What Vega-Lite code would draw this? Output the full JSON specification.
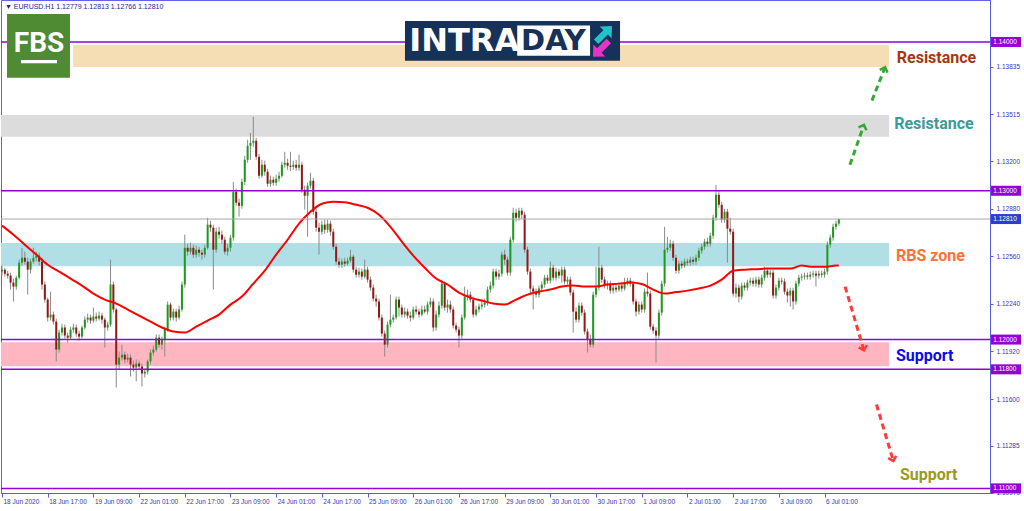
{
"$schema": "https://vega.github.io/schema/vega-lite/v6.json",
"width": 989,
"height": 493,
"autosize": "none",
"padding": {"left": 1, "top": 0, "right": 34, "bottom": 18},
"background": "#ffffff",
"config": {"view": {"stroke": "#6262e8", "strokeWidth": 1}, "scale": {"continuousPadding": 0}},
"datasets": {
"candles": [
{"i":0,"o":1.12457,"h":1.12497,"l":1.1243,"c":1.1247},
{"i":1,"o":1.1247,"h":1.12483,"l":1.12423,"c":1.12443},
{"i":2,"o":1.12443,"h":1.12463,"l":1.1241,"c":1.1243},
{"i":3,"o":1.1243,"h":1.1245,"l":1.12336,"c":1.12383},
{"i":4,"o":1.12383,"h":1.1241,"l":1.12256,"c":1.12356},
{"i":5,"o":1.12356,"h":1.1243,"l":1.12336,"c":1.12416},
{"i":6,"o":1.12416,"h":1.12537,"l":1.12403,"c":1.12517},
{"i":7,"o":1.12517,"h":1.12617,"l":1.12497,"c":1.1255},
{"i":8,"o":1.1255,"h":1.12591,"l":1.12503,"c":1.12524},
{"i":9,"o":1.12524,"h":1.1255,"l":1.12302,"c":1.1247},
{"i":10,"o":1.1247,"h":1.12544,"l":1.12443,"c":1.12524},
{"i":11,"o":1.12524,"h":1.12617,"l":1.1251,"c":1.1255},
{"i":12,"o":1.1255,"h":1.12591,"l":1.12524,"c":1.12564},
{"i":13,"o":1.12564,"h":1.12584,"l":1.12497,"c":1.12524},
{"i":14,"o":1.12524,"h":1.1255,"l":1.12336,"c":1.1237},
{"i":15,"o":1.1237,"h":1.1239,"l":1.12249,"c":1.12269},
{"i":16,"o":1.12269,"h":1.12282,"l":1.12121,"c":1.12148},
{"i":17,"o":1.12148,"h":1.12322,"l":1.12128,"c":1.12168},
{"i":18,"o":1.12168,"h":1.12188,"l":1.12101,"c":1.12121},
{"i":19,"o":1.12121,"h":1.12141,"l":1.11853,"c":1.11933},
{"i":20,"o":1.11933,"h":1.12067,"l":1.11913,"c":1.12047},
{"i":21,"o":1.12047,"h":1.12107,"l":1.12027,"c":1.12081},
{"i":22,"o":1.12081,"h":1.12101,"l":1.12007,"c":1.12027},
{"i":23,"o":1.12027,"h":1.12047,"l":1.1198,"c":1.12013},
{"i":24,"o":1.12013,"h":1.12087,"l":1.12,"c":1.12067},
{"i":25,"o":1.12067,"h":1.12107,"l":1.12047,"c":1.12081},
{"i":26,"o":1.12081,"h":1.12101,"l":1.1202,"c":1.1204},
{"i":27,"o":1.1204,"h":1.1206,"l":1.11993,"c":1.1202},
{"i":28,"o":1.1202,"h":1.12094,"l":1.12007,"c":1.12081},
{"i":29,"o":1.12081,"h":1.12155,"l":1.12067,"c":1.12134},
{"i":30,"o":1.12134,"h":1.12175,"l":1.12114,"c":1.12148},
{"i":31,"o":1.12148,"h":1.12168,"l":1.12107,"c":1.12128},
{"i":32,"o":1.12128,"h":1.12215,"l":1.12114,"c":1.12155},
{"i":33,"o":1.12155,"h":1.12181,"l":1.12121,"c":1.12141},
{"i":34,"o":1.12141,"h":1.12188,"l":1.12128,"c":1.12161},
{"i":35,"o":1.12161,"h":1.12181,"l":1.12107,"c":1.12134},
{"i":36,"o":1.12134,"h":1.12148,"l":1.11946,"c":1.12081},
{"i":37,"o":1.12081,"h":1.12121,"l":1.1206,"c":1.12101},
{"i":38,"o":1.12101,"h":1.12537,"l":1.12087,"c":1.1237},
{"i":39,"o":1.1237,"h":1.1239,"l":1.12181,"c":1.12202},
{"i":40,"o":1.12202,"h":1.12215,"l":1.11678,"c":1.11832},
{"i":41,"o":1.11832,"h":1.11919,"l":1.11799,"c":1.11879},
{"i":42,"o":1.11879,"h":1.11966,"l":1.11859,"c":1.11899},
{"i":43,"o":1.11899,"h":1.11919,"l":1.11839,"c":1.11866},
{"i":44,"o":1.11866,"h":1.11906,"l":1.11846,"c":1.11879},
{"i":45,"o":1.11879,"h":1.11899,"l":1.11752,"c":1.11832},
{"i":46,"o":1.11832,"h":1.11859,"l":1.11785,"c":1.11812},
{"i":47,"o":1.11812,"h":1.11866,"l":1.11719,"c":1.11839},
{"i":48,"o":1.11839,"h":1.11859,"l":1.11799,"c":1.11819},
{"i":49,"o":1.11819,"h":1.11839,"l":1.11685,"c":1.11772},
{"i":50,"o":1.11772,"h":1.11806,"l":1.11745,"c":1.11785},
{"i":51,"o":1.11785,"h":1.11866,"l":1.11765,"c":1.11853},
{"i":52,"o":1.11853,"h":1.11933,"l":1.11832,"c":1.11913},
{"i":53,"o":1.11913,"h":1.1196,"l":1.11893,"c":1.11933},
{"i":54,"o":1.11933,"h":1.12034,"l":1.11919,"c":1.12013},
{"i":55,"o":1.12013,"h":1.12034,"l":1.11946,"c":1.11966},
{"i":56,"o":1.11966,"h":1.1202,"l":1.11933,"c":1.12},
{"i":57,"o":1.12,"h":1.12087,"l":1.11886,"c":1.12067},
{"i":58,"o":1.12067,"h":1.12256,"l":1.12054,"c":1.12235},
{"i":59,"o":1.12235,"h":1.12249,"l":1.12128,"c":1.12148},
{"i":60,"o":1.12148,"h":1.12208,"l":1.12128,"c":1.12188},
{"i":61,"o":1.12188,"h":1.12208,"l":1.12121,"c":1.12148},
{"i":62,"o":1.12148,"h":1.12228,"l":1.12134,"c":1.12202},
{"i":63,"o":1.12202,"h":1.1239,"l":1.12188,"c":1.1237},
{"i":64,"o":1.1237,"h":1.12705,"l":1.12349,"c":1.12617},
{"i":65,"o":1.12617,"h":1.12644,"l":1.12564,"c":1.12591},
{"i":66,"o":1.12591,"h":1.12651,"l":1.12571,"c":1.12617},
{"i":67,"o":1.12617,"h":1.12638,"l":1.1255,"c":1.12571},
{"i":68,"o":1.12571,"h":1.12631,"l":1.1255,"c":1.12604},
{"i":69,"o":1.12604,"h":1.12624,"l":1.12557,"c":1.12584},
{"i":70,"o":1.12584,"h":1.12604,"l":1.12537,"c":1.12571},
{"i":71,"o":1.12571,"h":1.12638,"l":1.1255,"c":1.12617},
{"i":72,"o":1.12617,"h":1.12819,"l":1.12604,"c":1.12772},
{"i":73,"o":1.12772,"h":1.12799,"l":1.12725,"c":1.12752},
{"i":74,"o":1.12752,"h":1.12772,"l":1.12336,"c":1.12604},
{"i":75,"o":1.12604,"h":1.12752,"l":1.12584,"c":1.12725},
{"i":76,"o":1.12725,"h":1.12758,"l":1.12678,"c":1.12705},
{"i":77,"o":1.12705,"h":1.12732,"l":1.12644,"c":1.12671},
{"i":78,"o":1.12671,"h":1.12691,"l":1.12571,"c":1.12591},
{"i":79,"o":1.12591,"h":1.12644,"l":1.12564,"c":1.12617},
{"i":80,"o":1.12617,"h":1.12705,"l":1.12591,"c":1.12685},
{"i":81,"o":1.12685,"h":1.1306,"l":1.12664,"c":1.12993},
{"i":82,"o":1.12993,"h":1.13014,"l":1.12899,"c":1.1292},
{"i":83,"o":1.1292,"h":1.12947,"l":1.12826,"c":1.12899},
{"i":84,"o":1.12899,"h":1.13081,"l":1.12879,"c":1.1306},
{"i":85,"o":1.1306,"h":1.13235,"l":1.1304,"c":1.13208},
{"i":86,"o":1.13208,"h":1.13343,"l":1.13188,"c":1.13302},
{"i":87,"o":1.13302,"h":1.13389,"l":1.13208,"c":1.13322},
{"i":88,"o":1.13322,"h":1.13497,"l":1.13296,"c":1.13336},
{"i":89,"o":1.13336,"h":1.13356,"l":1.13208,"c":1.13228},
{"i":90,"o":1.13228,"h":1.13248,"l":1.13081,"c":1.13101},
{"i":91,"o":1.13101,"h":1.13208,"l":1.13087,"c":1.13175},
{"i":92,"o":1.13175,"h":1.13202,"l":1.13101,"c":1.13128},
{"i":93,"o":1.13128,"h":1.13148,"l":1.13027,"c":1.13047},
{"i":94,"o":1.13047,"h":1.13101,"l":1.13027,"c":1.13074},
{"i":95,"o":1.13074,"h":1.13094,"l":1.13034,"c":1.13054},
{"i":96,"o":1.13054,"h":1.13108,"l":1.13034,"c":1.13081},
{"i":97,"o":1.13081,"h":1.13128,"l":1.1306,"c":1.13101},
{"i":98,"o":1.13101,"h":1.13195,"l":1.13087,"c":1.13175},
{"i":99,"o":1.13175,"h":1.13262,"l":1.13155,"c":1.13188},
{"i":100,"o":1.13188,"h":1.13215,"l":1.13141,"c":1.13168},
{"i":101,"o":1.13168,"h":1.13262,"l":1.13134,"c":1.13161},
{"i":102,"o":1.13161,"h":1.13202,"l":1.13141,"c":1.13175},
{"i":103,"o":1.13175,"h":1.13208,"l":1.13134,"c":1.13155},
{"i":104,"o":1.13155,"h":1.13242,"l":1.13134,"c":1.13175},
{"i":105,"o":1.13175,"h":1.13195,"l":1.12987,"c":1.13007},
{"i":106,"o":1.13007,"h":1.13034,"l":1.12873,"c":1.12967},
{"i":107,"o":1.12967,"h":1.13054,"l":1.12691,"c":1.13034},
{"i":108,"o":1.13034,"h":1.13121,"l":1.13014,"c":1.13067},
{"i":109,"o":1.13067,"h":1.13087,"l":1.12839,"c":1.12859},
{"i":110,"o":1.12859,"h":1.12879,"l":1.12725,"c":1.12752},
{"i":111,"o":1.12752,"h":1.12785,"l":1.12571,"c":1.12725},
{"i":112,"o":1.12725,"h":1.12799,"l":1.12705,"c":1.12772},
{"i":113,"o":1.12772,"h":1.12806,"l":1.12711,"c":1.12738},
{"i":114,"o":1.12738,"h":1.12806,"l":1.12718,"c":1.12779},
{"i":115,"o":1.12779,"h":1.12799,"l":1.12698,"c":1.12725},
{"i":116,"o":1.12725,"h":1.12745,"l":1.12604,"c":1.12624},
{"i":117,"o":1.12624,"h":1.12644,"l":1.12503,"c":1.12524},
{"i":118,"o":1.12524,"h":1.1255,"l":1.12483,"c":1.12503},
{"i":119,"o":1.12503,"h":1.12544,"l":1.12483,"c":1.12524},
{"i":120,"o":1.12524,"h":1.1255,"l":1.1249,"c":1.1251},
{"i":121,"o":1.1251,"h":1.1255,"l":1.12497,"c":1.1253},
{"i":122,"o":1.1253,"h":1.12604,"l":1.12517,"c":1.12557},
{"i":123,"o":1.12557,"h":1.12571,"l":1.1245,"c":1.1247},
{"i":124,"o":1.1247,"h":1.1249,"l":1.12416,"c":1.12436},
{"i":125,"o":1.12436,"h":1.12483,"l":1.12416,"c":1.12457},
{"i":126,"o":1.12457,"h":1.12477,"l":1.12403,"c":1.12423},
{"i":127,"o":1.12423,"h":1.12537,"l":1.1241,"c":1.1247},
{"i":128,"o":1.1247,"h":1.1249,"l":1.12383,"c":1.12403},
{"i":129,"o":1.12403,"h":1.12423,"l":1.12329,"c":1.12349},
{"i":130,"o":1.12349,"h":1.1237,"l":1.12256,"c":1.12275},
{"i":131,"o":1.12275,"h":1.12302,"l":1.12222,"c":1.12256},
{"i":132,"o":1.12256,"h":1.12275,"l":1.12128,"c":1.12148},
{"i":133,"o":1.12148,"h":1.12168,"l":1.1202,"c":1.1204},
{"i":134,"o":1.1204,"h":1.1206,"l":1.11886,"c":1.11966},
{"i":135,"o":1.11966,"h":1.12121,"l":1.11946,"c":1.12101},
{"i":136,"o":1.12101,"h":1.12302,"l":1.12081,"c":1.12134},
{"i":137,"o":1.12134,"h":1.12168,"l":1.12114,"c":1.12148},
{"i":138,"o":1.12148,"h":1.12289,"l":1.12134,"c":1.12269},
{"i":139,"o":1.12269,"h":1.12289,"l":1.12155,"c":1.12215},
{"i":140,"o":1.12215,"h":1.12235,"l":1.12148,"c":1.12168},
{"i":141,"o":1.12168,"h":1.12215,"l":1.12148,"c":1.12188},
{"i":142,"o":1.12188,"h":1.12208,"l":1.12141,"c":1.12161},
{"i":143,"o":1.12161,"h":1.12188,"l":1.12121,"c":1.12148},
{"i":144,"o":1.12148,"h":1.12222,"l":1.12134,"c":1.12202},
{"i":145,"o":1.12202,"h":1.12228,"l":1.12168,"c":1.12188},
{"i":146,"o":1.12188,"h":1.12208,"l":1.12148,"c":1.12168},
{"i":147,"o":1.12168,"h":1.12228,"l":1.12155,"c":1.12202},
{"i":148,"o":1.12202,"h":1.12228,"l":1.12175,"c":1.12188},
{"i":149,"o":1.12188,"h":1.12256,"l":1.12168,"c":1.12235},
{"i":150,"o":1.12235,"h":1.12282,"l":1.12215,"c":1.12256},
{"i":151,"o":1.12256,"h":1.12275,"l":1.12054,"c":1.12081},
{"i":152,"o":1.12081,"h":1.12195,"l":1.1206,"c":1.12168},
{"i":153,"o":1.12168,"h":1.12256,"l":1.12148,"c":1.12228},
{"i":154,"o":1.12228,"h":1.12403,"l":1.12208,"c":1.12376},
{"i":155,"o":1.12376,"h":1.1239,"l":1.12195,"c":1.12215},
{"i":156,"o":1.12215,"h":1.12269,"l":1.12181,"c":1.12235},
{"i":157,"o":1.12235,"h":1.12262,"l":1.12181,"c":1.12202},
{"i":158,"o":1.12202,"h":1.12222,"l":1.12074,"c":1.12094},
{"i":159,"o":1.12094,"h":1.12114,"l":1.12047,"c":1.12067},
{"i":160,"o":1.12067,"h":1.12087,"l":1.11946,"c":1.12027},
{"i":161,"o":1.12027,"h":1.12168,"l":1.12007,"c":1.12148},
{"i":162,"o":1.12148,"h":1.12356,"l":1.12134,"c":1.12289},
{"i":163,"o":1.12289,"h":1.12336,"l":1.12262,"c":1.12302},
{"i":164,"o":1.12302,"h":1.12322,"l":1.12249,"c":1.12269},
{"i":165,"o":1.12269,"h":1.12289,"l":1.12148,"c":1.12168},
{"i":166,"o":1.12168,"h":1.12228,"l":1.12155,"c":1.12202},
{"i":167,"o":1.12202,"h":1.12242,"l":1.12181,"c":1.12222},
{"i":168,"o":1.12222,"h":1.12262,"l":1.12202,"c":1.12235},
{"i":169,"o":1.12235,"h":1.12275,"l":1.12215,"c":1.12249},
{"i":170,"o":1.12249,"h":1.12356,"l":1.12228,"c":1.12336},
{"i":171,"o":1.12336,"h":1.1239,"l":1.12316,"c":1.12363},
{"i":172,"o":1.12363,"h":1.12477,"l":1.12343,"c":1.12457},
{"i":173,"o":1.12457,"h":1.12477,"l":1.12403,"c":1.12423},
{"i":174,"o":1.12423,"h":1.1247,"l":1.12403,"c":1.12443},
{"i":175,"o":1.12443,"h":1.12591,"l":1.12423,"c":1.12571},
{"i":176,"o":1.12571,"h":1.12604,"l":1.12503,"c":1.12537},
{"i":177,"o":1.12537,"h":1.12557,"l":1.1243,"c":1.1245},
{"i":178,"o":1.1245,"h":1.12691,"l":1.1243,"c":1.12671},
{"i":179,"o":1.12671,"h":1.12886,"l":1.12651,"c":1.12852},
{"i":180,"o":1.12852,"h":1.12879,"l":1.12792,"c":1.12819},
{"i":181,"o":1.12819,"h":1.12886,"l":1.12799,"c":1.12866},
{"i":182,"o":1.12866,"h":1.12886,"l":1.12812,"c":1.12839},
{"i":183,"o":1.12839,"h":1.12859,"l":1.12584,"c":1.12604},
{"i":184,"o":1.12604,"h":1.12624,"l":1.12436,"c":1.12457},
{"i":185,"o":1.12457,"h":1.12477,"l":1.12302,"c":1.12343},
{"i":186,"o":1.12343,"h":1.12363,"l":1.12202,"c":1.12322},
{"i":187,"o":1.12322,"h":1.12343,"l":1.12282,"c":1.12302},
{"i":188,"o":1.12302,"h":1.12363,"l":1.12282,"c":1.12343},
{"i":189,"o":1.12343,"h":1.1239,"l":1.12322,"c":1.1237},
{"i":190,"o":1.1237,"h":1.12436,"l":1.12349,"c":1.12416},
{"i":191,"o":1.12416,"h":1.12436,"l":1.12376,"c":1.12396},
{"i":192,"o":1.12396,"h":1.12524,"l":1.12376,"c":1.12483},
{"i":193,"o":1.12483,"h":1.12503,"l":1.12396,"c":1.12416},
{"i":194,"o":1.12416,"h":1.12483,"l":1.12396,"c":1.12457},
{"i":195,"o":1.12457,"h":1.12477,"l":1.1241,"c":1.1243},
{"i":196,"o":1.1243,"h":1.1249,"l":1.12383,"c":1.1247},
{"i":197,"o":1.1247,"h":1.1249,"l":1.1237,"c":1.1239},
{"i":198,"o":1.1239,"h":1.12423,"l":1.1237,"c":1.12403},
{"i":199,"o":1.12403,"h":1.12423,"l":1.12296,"c":1.12316},
{"i":200,"o":1.12316,"h":1.12336,"l":1.12047,"c":1.12188},
{"i":201,"o":1.12188,"h":1.12215,"l":1.12114,"c":1.12134},
{"i":202,"o":1.12134,"h":1.12249,"l":1.12114,"c":1.12228},
{"i":203,"o":1.12228,"h":1.12249,"l":1.12161,"c":1.12181},
{"i":204,"o":1.12181,"h":1.12202,"l":1.12034,"c":1.12054},
{"i":205,"o":1.12054,"h":1.12074,"l":1.11913,"c":1.12},
{"i":206,"o":1.12,"h":1.12034,"l":1.11946,"c":1.11966},
{"i":207,"o":1.11966,"h":1.12322,"l":1.11946,"c":1.12302},
{"i":208,"o":1.12302,"h":1.1249,"l":1.12282,"c":1.12349},
{"i":209,"o":1.12349,"h":1.12624,"l":1.12329,"c":1.12483},
{"i":210,"o":1.12483,"h":1.12503,"l":1.12383,"c":1.12403},
{"i":211,"o":1.12403,"h":1.12423,"l":1.12343,"c":1.12363},
{"i":212,"o":1.12363,"h":1.12396,"l":1.12336,"c":1.12376},
{"i":213,"o":1.12376,"h":1.12396,"l":1.12309,"c":1.12329},
{"i":214,"o":1.12329,"h":1.1237,"l":1.12309,"c":1.12349},
{"i":215,"o":1.12349,"h":1.1237,"l":1.12316,"c":1.12336},
{"i":216,"o":1.12336,"h":1.12383,"l":1.12322,"c":1.12363},
{"i":217,"o":1.12363,"h":1.12383,"l":1.12322,"c":1.12343},
{"i":218,"o":1.12343,"h":1.12416,"l":1.12329,"c":1.12383},
{"i":219,"o":1.12383,"h":1.12416,"l":1.12363,"c":1.12396},
{"i":220,"o":1.12396,"h":1.12416,"l":1.12356,"c":1.12376},
{"i":221,"o":1.12376,"h":1.12396,"l":1.12235,"c":1.12256},
{"i":222,"o":1.12256,"h":1.12275,"l":1.12155,"c":1.12188},
{"i":223,"o":1.12188,"h":1.12256,"l":1.12168,"c":1.12235},
{"i":224,"o":1.12235,"h":1.12256,"l":1.12181,"c":1.12202},
{"i":225,"o":1.12202,"h":1.12343,"l":1.12181,"c":1.12322},
{"i":226,"o":1.12322,"h":1.1245,"l":1.12289,"c":1.12309},
{"i":227,"o":1.12309,"h":1.12329,"l":1.12067,"c":1.12087},
{"i":228,"o":1.12087,"h":1.12107,"l":1.1204,"c":1.1206},
{"i":229,"o":1.1206,"h":1.12081,"l":1.11846,"c":1.12027},
{"i":230,"o":1.12027,"h":1.12202,"l":1.12007,"c":1.12181},
{"i":231,"o":1.12181,"h":1.12396,"l":1.12161,"c":1.12376},
{"i":232,"o":1.12376,"h":1.12758,"l":1.12356,"c":1.12604},
{"i":233,"o":1.12604,"h":1.12691,"l":1.12584,"c":1.12617},
{"i":234,"o":1.12617,"h":1.12671,"l":1.12597,"c":1.12644},
{"i":235,"o":1.12644,"h":1.12664,"l":1.1253,"c":1.1255},
{"i":236,"o":1.1255,"h":1.12571,"l":1.12443,"c":1.12463},
{"i":237,"o":1.12463,"h":1.1253,"l":1.12443,"c":1.1251},
{"i":238,"o":1.1251,"h":1.1253,"l":1.12477,"c":1.12497},
{"i":239,"o":1.12497,"h":1.12544,"l":1.12483,"c":1.12524},
{"i":240,"o":1.12524,"h":1.12544,"l":1.12497,"c":1.12517},
{"i":241,"o":1.12517,"h":1.12557,"l":1.12497,"c":1.12537},
{"i":242,"o":1.12537,"h":1.12557,"l":1.12503,"c":1.12524},
{"i":243,"o":1.12524,"h":1.12571,"l":1.12503,"c":1.1255},
{"i":244,"o":1.1255,"h":1.12617,"l":1.1253,"c":1.12597},
{"i":245,"o":1.12597,"h":1.12644,"l":1.12577,"c":1.12624},
{"i":246,"o":1.12624,"h":1.12678,"l":1.12604,"c":1.12658},
{"i":247,"o":1.12658,"h":1.12685,"l":1.12624,"c":1.12644},
{"i":248,"o":1.12644,"h":1.12718,"l":1.12624,"c":1.12698},
{"i":249,"o":1.12698,"h":1.12839,"l":1.12678,"c":1.12819},
{"i":250,"o":1.12819,"h":1.1304,"l":1.12799,"c":1.12973},
{"i":251,"o":1.12973,"h":1.13007,"l":1.12886,"c":1.12906},
{"i":252,"o":1.12906,"h":1.12926,"l":1.12785,"c":1.12806},
{"i":253,"o":1.12806,"h":1.12879,"l":1.12785,"c":1.12859},
{"i":254,"o":1.12859,"h":1.12879,"l":1.12517,"c":1.12745},
{"i":255,"o":1.12745,"h":1.12819,"l":1.12705,"c":1.12725},
{"i":256,"o":1.12725,"h":1.12745,"l":1.12289,"c":1.12309},
{"i":257,"o":1.12309,"h":1.12376,"l":1.12282,"c":1.12349},
{"i":258,"o":1.12349,"h":1.1237,"l":1.12249,"c":1.12289},
{"i":259,"o":1.12289,"h":1.12383,"l":1.12269,"c":1.12363},
{"i":260,"o":1.12363,"h":1.12383,"l":1.12329,"c":1.12349},
{"i":261,"o":1.12349,"h":1.12403,"l":1.12329,"c":1.12383},
{"i":262,"o":1.12383,"h":1.12416,"l":1.12363,"c":1.12396},
{"i":263,"o":1.12396,"h":1.12416,"l":1.12356,"c":1.12376},
{"i":264,"o":1.12376,"h":1.12423,"l":1.12356,"c":1.12403},
{"i":265,"o":1.12403,"h":1.12423,"l":1.12349,"c":1.1237},
{"i":266,"o":1.1237,"h":1.12436,"l":1.12349,"c":1.12416},
{"i":267,"o":1.12416,"h":1.1249,"l":1.12396,"c":1.12463},
{"i":268,"o":1.12463,"h":1.12483,"l":1.12416,"c":1.12436},
{"i":269,"o":1.12436,"h":1.1247,"l":1.12416,"c":1.1245},
{"i":270,"o":1.1245,"h":1.1247,"l":1.12275,"c":1.12296},
{"i":271,"o":1.12296,"h":1.1237,"l":1.12275,"c":1.12349},
{"i":272,"o":1.12349,"h":1.12416,"l":1.12329,"c":1.12396},
{"i":273,"o":1.12396,"h":1.12416,"l":1.1237,"c":1.1239},
{"i":274,"o":1.1239,"h":1.1241,"l":1.12302,"c":1.12322},
{"i":275,"o":1.12322,"h":1.12343,"l":1.12249,"c":1.12296},
{"i":276,"o":1.12296,"h":1.12349,"l":1.12222,"c":1.12329},
{"i":277,"o":1.12329,"h":1.12349,"l":1.12202,"c":1.12256},
{"i":278,"o":1.12256,"h":1.12396,"l":1.12235,"c":1.12376},
{"i":279,"o":1.12376,"h":1.12436,"l":1.12356,"c":1.12416},
{"i":280,"o":1.12416,"h":1.12443,"l":1.12396,"c":1.12423},
{"i":281,"o":1.12423,"h":1.1245,"l":1.12403,"c":1.1243},
{"i":282,"o":1.1243,"h":1.1245,"l":1.12403,"c":1.12423},
{"i":283,"o":1.12423,"h":1.12457,"l":1.12403,"c":1.12436},
{"i":284,"o":1.12436,"h":1.12463,"l":1.12416,"c":1.12443},
{"i":285,"o":1.12443,"h":1.12463,"l":1.12356,"c":1.1243},
{"i":286,"o":1.1243,"h":1.12463,"l":1.1241,"c":1.12443},
{"i":287,"o":1.12443,"h":1.12463,"l":1.12416,"c":1.12436},
{"i":288,"o":1.12436,"h":1.12477,"l":1.12416,"c":1.12457},
{"i":289,"o":1.12457,"h":1.12658,"l":1.12436,"c":1.12638},
{"i":290,"o":1.12638,"h":1.12705,"l":1.12617,"c":1.12685},
{"i":291,"o":1.12685,"h":1.12779,"l":1.12664,"c":1.12758},
{"i":292,"o":1.12758,"h":1.12799,"l":1.12738,"c":1.12779},
{"i":293,"o":1.12779,"h":1.12813,"l":1.12766,"c":1.1281}
],
"ma": [
{"i":0,"v":1.12766},{"i":4,"v":1.12705},{"i":8,"v":1.12638},{"i":12,"v":1.12571},{"i":16,"v":1.12503},{"i":20,"v":1.12457},{"i":24,"v":1.1241},{"i":28,"v":1.12363},{"i":32,"v":1.12309},{"i":36,"v":1.12269},{"i":40,"v":1.12242},{"i":44,"v":1.12202},{"i":48,"v":1.12161},{"i":52,"v":1.12121},{"i":56,"v":1.12081},{"i":60,"v":1.12054},{"i":64,"v":1.12047},{"i":68,"v":1.12087},{"i":72,"v":1.12128},{"i":76,"v":1.12168},{"i":80,"v":1.12235},{"i":84,"v":1.12289},{"i":88,"v":1.12376},{"i":92,"v":1.12463},{"i":96,"v":1.12571},{"i":100,"v":1.12671},{"i":104,"v":1.12779},{"i":108,"v":1.12859},{"i":112,"v":1.12913},{"i":116,"v":1.12926},{"i":120,"v":1.12923},{"i":124,"v":1.12906},{"i":128,"v":1.12886},{"i":132,"v":1.12839},{"i":136,"v":1.12758},{"i":140,"v":1.12658},{"i":144,"v":1.12564},{"i":148,"v":1.12483},{"i":152,"v":1.1241},{"i":156,"v":1.1237},{"i":160,"v":1.12316},{"i":164,"v":1.12282},{"i":168,"v":1.12262},{"i":172,"v":1.12242},{"i":176,"v":1.12235},{"i":180,"v":1.12269},{"i":184,"v":1.12302},{"i":188,"v":1.12322},{"i":192,"v":1.12336},{"i":196,"v":1.12356},{"i":200,"v":1.12363},{"i":204,"v":1.12356},{"i":208,"v":1.12356},{"i":212,"v":1.1237},{"i":216,"v":1.12376},{"i":220,"v":1.12383},{"i":224,"v":1.12373},{"i":228,"v":1.12336},{"i":232,"v":1.12309},{"i":236,"v":1.12319},{"i":240,"v":1.12329},{"i":244,"v":1.12343},{"i":248,"v":1.12363},{"i":252,"v":1.12403},{"i":256,"v":1.12463},{"i":260,"v":1.1247},{"i":264,"v":1.12473},{"i":268,"v":1.12477},{"i":272,"v":1.12477},{"i":276,"v":1.12477},{"i":280,"v":1.12497},{"i":284,"v":1.1249},{"i":288,"v":1.1249},{"i":292,"v":1.12497},{"i":293,"v":1.12497}
],
"zones": [
{"zone":"resistance2","lo":1.13832,"hi":1.1398},
{"zone":"resistance1","lo":1.13363,"hi":1.1351},
{"zone":"rbs","lo":1.12492,"hi":1.12649},
{"zone":"support1","lo":1.11821,"hi":1.11982}
],
"levels": [{"p":1.14,"kind":"level"},{"p":1.13,"kind":"level"},{"p":1.12,"kind":"level"},{"p":1.118,"kind":"level"},{"p":1.11,"kind":"level"}],
"tags": [{"p":1.14,"kind":"level"},{"p":1.13,"kind":"level"},{"p":1.1281,"kind":"bid"},{"p":1.12,"kind":"level"},{"p":1.118,"kind":"level"},{"p":1.11,"kind":"level"}],
"arrows": [
{"dir":"up","i1":296.9,"p1":1.13175,"i2":301.8,"p2":1.13443},
{"dir":"up","i1":304.6,"p1":1.13606,"i2":309.2,"p2":1.1383},
{"dir":"down","i1":295.2,"p1":1.12356,"i2":301.8,"p2":1.11928},
{"dir":"down","i1":306.2,"p1":1.11564,"i2":312.1,"p2":1.11184}
]
},
"layer": [
{
"data": {"name": "zones"},
"transform": [{"filter": "datum.zone != 'resistance2'"}],
"mark": {"type": "rect"},
"encoding": {
"x": {"datum": -0.35, "type": "quantitative",
"scale": {"domain": [-0.35, 345.94], "zero": false, "nice": false, "padding": 0},
"axis": {"orient": "bottom", "title": null, "grid": false,
"values": [0,16,32,48,64,80,96,112,128,144,160,176,192,208,224,240,256,272,288],
"labelExpr": "['18 Jun 2020','18 Jun 17:00','19 Jun 09:00','22 Jun 01:00','22 Jun 17:00','23 Jun 09:00','24 Jun 01:00','24 Jun 17:00','25 Jun 09:00','26 Jun 01:00','26 Jun 17:00','29 Jun 09:00','30 Jun 01:00','30 Jun 17:00','1 Jul 09:00','2 Jul 01:00','2 Jul 17:00','3 Jul 09:00','6 Jul 01:00'][round(datum.value/16)]",
"labelAlign": "left", "labelOffset": 1, "labelFlush": false, "labelOverlap": false, "labelBound": false,
"labelFont": "Liberation Sans", "labelFontSize": 6.5, "labelColor": "#3535c0",
"tickColor": "#5a5ae6", "tickSize": 4, "domainColor": "#5a5ae6", "labelPadding": 1}},
"x2": {"datum": 310.6},
"y": {"field": "lo", "type": "quantitative",
"scale": {"domain": [1.10969, 1.14282], "zero": false, "nice": false, "padding": 0},
"axis": {"orient": "right", "title": null, "grid": false,
"values": [1.1097,1.1113,1.11285,1.11445,1.116,1.1176,1.1192,1.1208,1.1224,1.124,1.1256,1.1272,1.1288,1.1304,1.132,1.1336,1.13515,1.13675,1.13835,1.14155],
"format": ".5f", "labelFont": "Liberation Sans", "labelFontSize": 6.5, "labelColor": "#3535c0",
"tickColor": "#5a5ae6", "tickSize": 3, "domainColor": "#5a5ae6", "labelPadding": 3, "labelOverlap": false, "labelFlush": false, "labelBound": false}},
"y2": {"field": "hi"},
"color": {"field": "zone", "type": "nominal", "legend": null,
"scale": {"domain": ["resistance2","resistance1","rbs","support1"], "range": ["#f5deb3","#dcdcdc","#b0e0e6","#ffb6c1"]}}
}
},
{
"data": {"name": "zones"},
"transform": [{"filter": "datum.zone == 'resistance2'"}],
"mark": {"type": "rect"},
"encoding": {
"x": {"datum": 24.9, "type": "quantitative"},
"x2": {"datum": 310.6},
"y": {"field": "lo", "type": "quantitative"},
"y2": {"field": "hi"},
"color": {"field": "zone", "type": "nominal", "legend": null}
}
},
{
"data": {"name": "candles"},
"mark": {"type": "rule", "color": "#8a8a8a", "strokeWidth": 1},
"encoding": {
"x": {"field": "i", "type": "quantitative", "scale": {"domain": [-0.35, 345.94], "zero": false, "nice": false, "padding": 0}},
"y": {"field": "l", "type": "quantitative", "scale": {"domain": [1.10969, 1.14282], "zero": false, "nice": false, "padding": 0}},
"y2": {"field": "h"}
}
},
{
"data": {"name": "candles"},
"mark": {"type": "bar", "width": 2},
"encoding": {
"x": {"field": "i", "type": "quantitative", "scale": {"domain": [-0.35, 345.94], "zero": false, "nice": false, "padding": 0}},
"y": {"field": "o", "type": "quantitative", "scale": {"domain": [1.10969, 1.14282], "zero": false, "nice": false, "padding": 0}},
"y2": {"field": "c"},
"color": {"condition": {"test": "datum.c >= datum.o", "value": "#1d9a1d"}, "value": "#941616"}
}
},
{
"data": {"name": "ma"},
"mark": {"type": "line", "color": "#ff0000", "strokeWidth": 2, "interpolate": "monotone"},
"encoding": {
"x": {"field": "i", "type": "quantitative"},
"y": {"field": "v", "type": "quantitative"}
}
},
{
"data": {"name": "levels"},
"mark": {"type": "rule", "color": "#9400d3", "strokeWidth": 1.5},
"encoding": {"y": {"field": "p", "type": "quantitative"}}
},
{
"data": {"values": [{"p": 1.1281}]},
"mark": {"type": "rule", "color": "#a8a8a8", "strokeWidth": 1},
"encoding": {"y": {"field": "p", "type": "quantitative"}}
},
{
"data": {"name": "arrows"},
"mark": {"type": "rule", "strokeWidth": 3, "strokeDash": [6, 4]},
"encoding": {
"x": {"field": "i1", "type": "quantitative"},
"y": {"field": "p1", "type": "quantitative"},
"x2": {"field": "i2"},
"y2": {"field": "p2"},
"color": {"condition": {"test": "datum.dir == 'up'", "value": "#35a835"}, "value": "#ff3a3a"}
}
},
{
"data": {"name": "arrows"},
"transform": [{"filter": "datum.dir == 'up'"}],
"mark": {"type": "point", "shape": "M-0.7,0.7L0,0L0.7,0.7", "filled": false, "color": "#35a835", "strokeWidth": 2.5, "size": 144, "angle": 20, "opacity": 1},
"encoding": {
"x": {"field": "i2", "type": "quantitative"},
"y": {"field": "p2", "type": "quantitative"}
}
},
{
"data": {"name": "arrows"},
"transform": [{"filter": "datum.dir == 'down'"}],
"mark": {"type": "point", "shape": "M-0.7,0.7L0,0L0.7,0.7", "filled": false, "color": "#ff3a3a", "strokeWidth": 2.5, "size": 144, "angle": 163.5, "opacity": 1},
"encoding": {
"x": {"field": "i2", "type": "quantitative"},
"y": {"field": "p2", "type": "quantitative"}
}
},
{
"data": {"values": [{}]},
"mark": {"type": "text", "text": "Resistance", "font": "Roboto", "fontWeight": "bold", "fontSize": 16, "align": "left", "baseline": "middle", "color": "#a5380f"},
"encoding": {"x": {"datum": 313.3, "type": "quantitative"}, "y": {"datum": 1.13891, "type": "quantitative"}}
},
{
"data": {"values": [{}]},
"mark": {"type": "text", "text": "Resistance", "font": "Roboto", "fontWeight": "bold", "fontSize": 16, "align": "left", "baseline": "middle", "color": "#3d9a9a"},
"encoding": {"x": {"datum": 312.4, "type": "quantitative"}, "y": {"datum": 1.13448, "type": "quantitative"}}
},
{
"data": {"values": [{}]},
"mark": {"type": "text", "text": "RBS zone", "font": "Roboto", "fontWeight": "bold", "fontSize": 16, "align": "left", "baseline": "middle", "color": "#ff7038"},
"encoding": {"x": {"datum": 313.0, "type": "quantitative"}, "y": {"datum": 1.12564, "type": "quantitative"}}
},
{
"data": {"values": [{}]},
"mark": {"type": "text", "text": "Support", "font": "Roboto", "fontWeight": "bold", "fontSize": 16, "align": "left", "baseline": "middle", "color": "#0a0aee"},
"encoding": {"x": {"datum": 313.0, "type": "quantitative"}, "y": {"datum": 1.11888, "type": "quantitative"}}
},
{
"data": {"values": [{}]},
"mark": {"type": "text", "text": "Support", "font": "Roboto", "fontWeight": "bold", "fontSize": 16, "align": "left", "baseline": "middle", "color": "#9a9a1c"},
"encoding": {"x": {"datum": 314.4, "type": "quantitative"}, "y": {"datum": 1.11088, "type": "quantitative"}}
},
{
"data": {"values": [{}]},
"mark": {"type": "text", "text": "▼ EURUSD.H1  1.12779 1.12813 1.12766 1.12810", "font": "Liberation Sans", "fontSize": 7, "align": "left", "baseline": "middle", "color": "#1e1e96"},
"encoding": {"x": {"datum": 1.05, "type": "quantitative"}, "y": {"datum": 1.14233, "type": "quantitative"}}
},
{
"data": {"values": [{}]},
"mark": {"type": "rect", "color": "#4e8b33"},
"encoding": {"x": {"datum": 1.75, "type": "quantitative"}, "x2": {"datum": 23.8}, "y": {"datum": 1.14188, "type": "quantitative"}, "y2": {"datum": 1.13759}}
},
{
"data": {"values": [{}]},
"mark": {"type": "text", "text": "FBS", "font": "Liberation Sans Narrow, Roboto", "fontWeight": "bold", "fontSize": 28, "align": "center", "baseline": "middle", "color": "#ffffff"},
"encoding": {"x": {"datum": 12.96, "type": "quantitative"}, "y": {"datum": 1.13987, "type": "quantitative"}}
},
{
"data": {"values": [{}]},
"mark": {"type": "rect", "color": "#ffffff"},
"encoding": {"x": {"datum": 6.65, "type": "quantitative"}, "x2": {"datum": 19.26}, "y": {"datum": 1.13879, "type": "quantitative"}, "y2": {"datum": 1.13857}}
},
{
"data": {"values": [{}]},
"mark": {"type": "rect", "color": "#163259"},
"encoding": {"x": {"datum": 141.1, "type": "quantitative"}, "x2": {"datum": 216.4}, "y": {"datum": 1.14141, "type": "quantitative"}, "y2": {"datum": 1.13873}}
},
{
"data": {"values": [{}]},
"mark": {"type": "rect", "color": "#ffffff"},
"encoding": {"x": {"datum": 180.4, "type": "quantitative"}, "x2": {"datum": 205.9}, "y": {"datum": 1.1411, "type": "quantitative"}, "y2": {"datum": 1.13908}}
},
{
"data": {"values": [{}]},
"mark": {"type": "text", "text": "INTRA", "font": "DejaVu Sans", "fontWeight": "bold", "fontSize": 32, "align": "left", "baseline": "middle", "color": "#ffffff"},
"encoding": {"x": {"datum": 142.6, "type": "quantitative"}, "y": {"datum": 1.14007, "type": "quantitative"}}
},
{
"data": {"values": [{}]},
"mark": {"type": "text", "text": "DAY", "font": "DejaVu Sans", "fontWeight": "bold", "fontSize": 29, "align": "center", "baseline": "middle", "color": "#163259"},
"encoding": {"x": {"datum": 193.1, "type": "quantitative"}, "y": {"datum": 1.14007, "type": "quantitative"}}
},
{
"data": {"values": [{}]},
"mark": {"type": "point", "shape": "M0,-1L0.75,-0.2L0.28,-0.2L0.28,1L-0.28,1L-0.28,-0.2L-0.75,-0.2Z", "filled": true, "color": "#1fc4c9", "size": 500, "angle": 45, "opacity": 1},
"encoding": {"x": {"datum": 210.8, "type": "quantitative"}, "y": {"datum": 1.14054, "type": "quantitative"}}
},
{
"data": {"values": [{}]},
"mark": {"type": "point", "shape": "M0,-1L0.75,-0.2L0.28,-0.2L0.28,1L-0.28,1L-0.28,-0.2L-0.75,-0.2Z", "filled": true, "color": "#e833c9", "size": 500, "angle": 225, "opacity": 1},
"encoding": {"x": {"datum": 209.7, "type": "quantitative"}, "y": {"datum": 1.13953, "type": "quantitative"}}
},
{
"data": {"name": "tags"},
"mark": {"type": "bar", "orient": "horizontal", "height": 10},
"encoding": {
"x": {"datum": 346.3, "type": "quantitative"},
"x2": {"datum": 356.8},
"y": {"field": "p", "type": "quantitative"},
"color": {"condition": {"test": "datum.kind == 'bid'", "value": "#2a3fd0"}, "value": "#9400d3"}
}
},
{
"data": {"name": "tags"},
"mark": {"type": "text", "font": "Liberation Sans", "fontSize": 6.5, "align": "left", "baseline": "middle", "color": "#ffffff"},
"encoding": {
"x": {"datum": 347.1, "type": "quantitative"},
"y": {"field": "p", "type": "quantitative"},
"text": {"field": "p", "type": "quantitative", "format": ".5f"}
}
}
]
}
